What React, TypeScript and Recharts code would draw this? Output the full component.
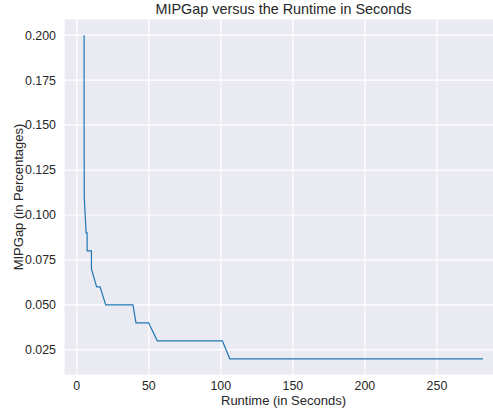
import { LineChart, Line, XAxis, YAxis, CartesianGrid } from "recharts";

// runtime (seconds) and MIPGap at each logged point
const runtime = [5.1, 5.1, 5.2, 5.2, 6.5, 7.2, 7.2, 10.2, 10.2, 13.8, 16.2, 20.1, 39.0, 41.1, 49.9, 55.9, 101.1, 106.2, 282.0];
const mipGap = [0.2, 0.15, 0.12, 0.11, 0.09, 0.09, 0.08, 0.08, 0.07, 0.06, 0.06, 0.05, 0.05, 0.04, 0.04, 0.03, 0.03, 0.02, 0.02];

const xTicks = [0, 50, 100, 150, 200, 250];
const yTicks = [0.025, 0.05, 0.075, 0.1, 0.125, 0.15, 0.175, 0.2];

const data = runtime.map((t, i) => ({ runtime: t, gap: mipGap[i] }));

const FONT = '"Liberation Sans", Arial, sans-serif';
const TEXT = "#262626";

export default function App() {
  return (
    <div
      style={{
        position: "absolute",
        left: 0,
        top: 0,
        width: 493,
        height: 410,
        overflow: "hidden",
        background: "#fff",
        fontFamily: FONT,
      }}
    >
      <div
        style={{
          position: "absolute",
          left: 0,
          top: 1,
          width: 567,
          textAlign: "center",
          fontSize: 14.4,
          lineHeight: "16px",
          color: TEXT,
        }}
      >
        MIPGap versus the Runtime in Seconds
      </div>
      <LineChart
        width={520}
        height={410}
        data={data}
        margin={{ top: 19, right: 17, bottom: 0, left: 0 }}
      >
        <CartesianGrid stroke="#ffffff" strokeWidth={1.2} fill="#EAEAF2" />
        <XAxis
          type="number"
          dataKey="runtime"
          domain={[-8.85, 295.85]}
          ticks={xTicks}
          allowDataOverflow
          axisLine={false}
          tickLine={false}
          tickSize={6}
          tickMargin={0}
          height={35}
          tick={{ fill: TEXT, fontSize: 12.4, fontFamily: FONT }}
          label={{
            value: "Runtime (in Seconds)",
            position: "insideBottom",
            offset: 5,
            fill: TEXT,
            fontSize: 13,
            fontFamily: FONT,
          }}
        />
        <YAxis
          type="number"
          dataKey="gap"
          domain={[0.011, 0.209]}
          ticks={yTicks}
          allowDataOverflow
          axisLine={false}
          tickLine={false}
          width={64}
          tickFormatter={(v: number) => v.toFixed(3)}
          tick={{ fill: TEXT, fontSize: 12.4, fontFamily: FONT }}
          label={{
            value: "MIPGap (in Percentages)",
            angle: -90,
            position: "insideLeft",
            offset: 18,
            fill: TEXT,
            fontSize: 13,
            fontFamily: FONT,
            style: { textAnchor: "middle" },
          }}
        />
        <Line
          type="linear"
          dataKey="gap"
          stroke="#1f77b4"
          strokeWidth={1.2}
          dot={false}
          isAnimationActive={false}
        />
      </LineChart>
    </div>
  );
}
